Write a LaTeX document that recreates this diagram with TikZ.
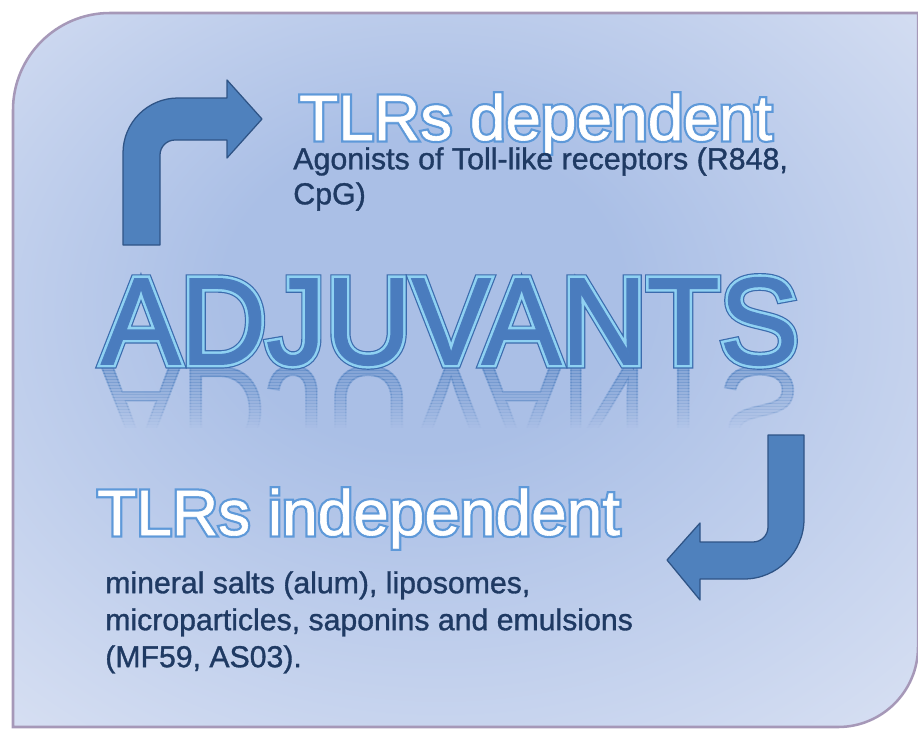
\documentclass[tikz,border=0pt]{standalone}
\usepackage{fontspec}
\setmainfont{Liberation Sans}
\newfontfamily\bigfont[FakeStretch=0.96]{Liberation Sans}
\newfontfamily\bodyfont[FakeBold=1.1]{Liberation Sans}

\definecolor{bgin}{HTML}{AABFE6}
\definecolor{bgout}{HTML}{E0E6F5}
\definecolor{framecol}{HTML}{A698B8}
\definecolor{arrowfill}{HTML}{4F81BD}
\definecolor{arrowedge}{HTML}{2F5486}
\definecolor{adjfill}{HTML}{4A7CBE}
\definecolor{adjlight}{HTML}{8FD0F2}
\definecolor{adjdark}{HTML}{3A6AAE}
\definecolor{headedge}{HTML}{5E9AD8}
\definecolor{bodytext}{HTML}{1F3A63}

\pgfdeclareradialshading{bgglow}{\pgfpoint{-3bp}{7bp}}{color(0bp)=(bgin); color(11bp)=(bgin); color(42bp)=(bgout); color(50bp)=(bgout)}

% text drawn with fill and a coloured stroke
\newcommand{\rimtext}[3]{{\special{pdf:literal direct 2 Tr #1 w #2 RG}#3\special{pdf:literal direct 0 Tr}}}

\begin{document}
\begin{tikzpicture}[x=0.025cm, y=-0.025cm,
  bentarrow/.style={fill=arrowfill, draw=arrowedge, line width=0.9pt, line join=round},
  heading/.style={inner sep=0pt, anchor=base west, text=white, font=\fontsize{45.5}{48}\selectfont},
  bigword/.style={inner sep=0pt, anchor=base west, text=adjfill, font=\bigfont\fontsize{88}{90}\selectfont},
  body/.style={inner sep=0pt, anchor=north west, align=left, text=bodytext}]
\useasboundingbox (0,0) rectangle (918,729);

% panel
\shadedraw[shading=bgglow, draw=framecol, line width=1.8pt] (13,727) -- (13,110) arc (180:270:97)
  -- (918,13) -- (918,647) arc (0:90:80) -- cycle;

% bent arrows
\draw[bentarrow] (123,245) -- (123,153) arc (180:270:55) -- (227,98) -- (227,80) -- (262,119)
  -- (227,158) -- (227,140) -- (175,140) arc (270:180:15) -- (160,245) -- cycle;
\draw[bentarrow] (768,435) -- (804,435) -- (804,519) arc (0:90:60) -- (700,579) -- (700,600)
  -- (667,560) -- (700,523) -- (700,542) -- (753,542) arc (90:0:15) -- cycle;

% reflection of the title
\foreach \k [evaluate=\k as \op using 0.4-0.02*\k] in {0,...,19}{
  \begin{scope}
    \clip (0,367+3*\k) rectangle (918,370+3*\k);
    \begin{scope}[shift={(101,367)}, yscale=-1]
      \node[bigword, opacity=\op, transform shape] (adjrefl\k) at (0,0) {\rimtext{1.2}{0.29 0.49 0.75}{ADJUVANTS}};
    \end{scope}
  \end{scope}}

% title
\node[bigword, text=adjdark] (adjrim) at (101,364) {\rimtext{6.5}{0.23 0.42 0.68}{ADJUVANTS}};
\node[bigword, text=adjlight] (adjglow) at (101,364) {\rimtext{4.8}{0.56 0.82 0.95}{ADJUVANTS}};
\node[bigword] (adj) at (101,364) {\rimtext{1.2}{0.29 0.49 0.75}{ADJUVANTS}};

% TLRs dependent
\node[heading, text=headedge] (depedge) at (299,140) {\rimtext{3.6}{0.37 0.60 0.85}{TLRs dependent}};
\node[heading] (dephead) at (299,140) {\rimtext{0.4}{1 1 1}{TLRs dependent}};
\node[body, font=\bodyfont\fontsize{21.6}{24.9}\selectfont] (deptext) at (293,147)
  {Agonists of Toll-like receptors (R848,\\CpG)};

% TLRs independent
\node[heading, text=headedge] (indepedge) at (97,535) {\rimtext{3.6}{0.37 0.60 0.85}{TLRs independent}};
\node[heading] (indephead) at (97,535) {\rimtext{0.4}{1 1 1}{TLRs independent}};
\node[body, font=\bodyfont\fontsize{21.5}{26.3}\selectfont] (indeptext) at (105,571)
  {mineral salts (alum), liposomes,\\microparticles, saponins and emulsions\\(MF59, AS03).};
\end{tikzpicture}
\end{document}
